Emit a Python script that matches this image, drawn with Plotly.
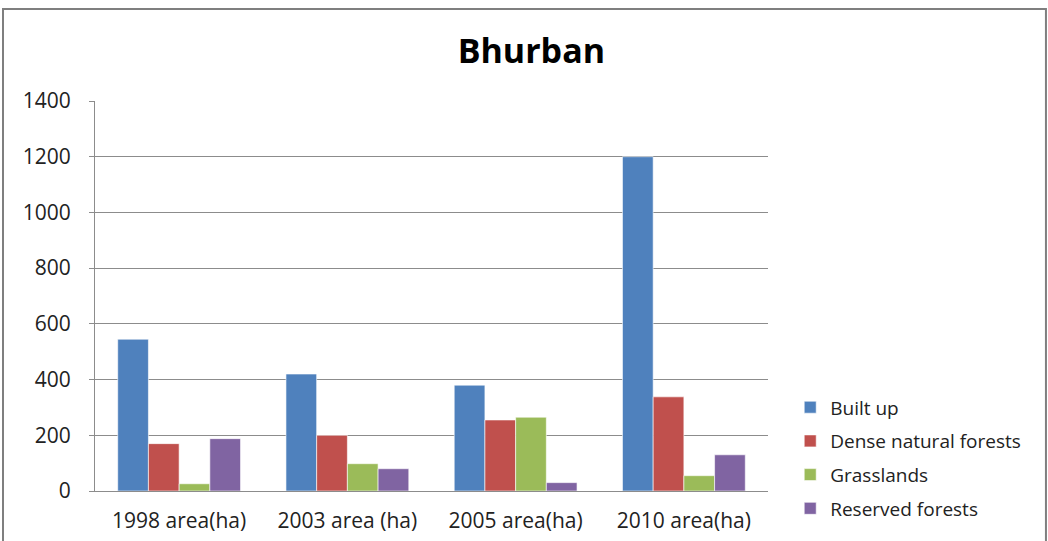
import plotly.graph_objects as go

categories = ["1998 area(ha)", "2003 area (ha)", "2005 area(ha)", "2010 area(ha)"]
built_up = [545, 420, 380, 1200]
dense_forests = [170, 200, 255, 338]
grasslands = [26, 98, 265, 55]
reserved_forests = [188, 80, 30, 130]

series = [
    ("Built up", built_up, "#4F81BD"),
    ("Dense natural forests", dense_forests, "#C0504D"),
    ("Grasslands", grasslands, "#9BBB59"),
    ("Reserved forests", reserved_forests, "#8064A2"),
]

fig = go.Figure()
for name, vals, col in series:
    fig.add_trace(go.Bar(x=categories, y=vals, name=name, legendgroup=name,
                         marker=dict(color=col, line=dict(color="rgba(255,255,255,0.6)", width=1))))

fig.update_layout(
    width=1048, height=541,
    margin=dict(l=95, r=280, t=101, b=50),
    paper_bgcolor="white", plot_bgcolor="white",
    font=dict(family="Open Sans, sans-serif", size=19, color="#222"),
    title=dict(text="<b>Bhurban</b>", x=0.507, xanchor="center", y=0.905, yanchor="middle",
               font=dict(size=34, color="black")),
    barmode="group", bargap=0.27, bargroupgap=0,
    legend=dict(x=1.033, xanchor="left", y=0.085, yanchor="middle",
                traceorder="grouped", tracegroupgap=6, itemwidth=30,
                font=dict(size=19), borderwidth=0),
    showlegend=True,
)
fig.update_yaxes(range=[0, 1400], dtick=200, showgrid=True, gridcolor="#8c8c8c", gridwidth=1,
                 showline=True, linecolor="#8c8c8c", ticks="outside", ticklen=5,
                 tickcolor="#8c8c8c", zeroline=False, ticklabelstandoff=14,
                 tickfont=dict(size=21), automargin=False)
fig.update_xaxes(showline=True, linecolor="#8c8c8c", ticks="", ticklabelstandoff=11,
                 tickfont=dict(size=21), automargin=False)

fig.add_shape(type="rect", xref="paper", yref="paper",
              x0=-0.1367, x1=1.413, y0=-0.16, y1=1.236,
              line=dict(color="#7f7f7f", width=2), layer="below")

fig.write_html("out.html", config={"displayModeBar": False},
               post_script="document.body.style.margin='0px';")
